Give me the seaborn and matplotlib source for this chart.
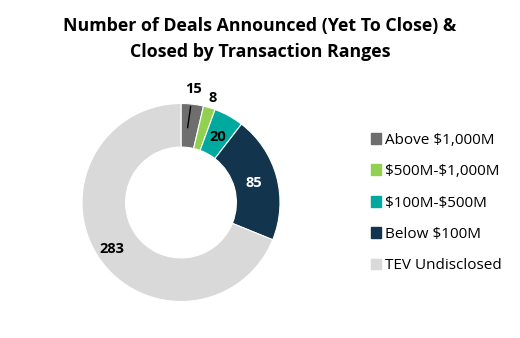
import numpy as np
import matplotlib
matplotlib.use("Agg")
import matplotlib.pyplot as plt
import seaborn as sns

categories = ["Above $1,000M", "$500M-$1,000M", "$100M-$500M", "Below $100M", "TEV Undisclosed"]
values = [15, 8, 20, 85, 283]
colors = ["#6e6e6e", "#92d050", "#00a99d", "#12344d", "#d9d9d9"]
title = "Number of Deals Announced (Yet To Close) &\nClosed by Transaction Ranges"

sns.set_theme(style="white")
plt.rcParams['font.family'] = ['Open Sans', 'DejaVu Sans']

fig = plt.figure(figsize=(5.2, 3.38), dpi=100)
ax = fig.add_axes([(82/520), 1 - 303/338, 198/520, 201/338])
wedges, _ = ax.pie(values, colors=colors, startangle=90, counterclock=False,
                   wedgeprops=dict(width=0.44, edgecolor="white", linewidth=0.8))
ax.set_aspect("equal")
ax.set_xlim(-1, 1)
ax.set_ylim(-1, 1)

total = sum(values)
cum = 0
for i, (v, w) in enumerate(zip(values, wedges)):
    mid = 90 - (cum + v / 2) / total * 360
    cum += v
    rad = np.deg2rad(mid)
    if i == 0:
        ax.annotate(str(v), xy=(0.76 * np.cos(rad) - 0.02, 0.76 * np.sin(rad)),
                    xytext=(1.15 * np.cos(rad) - 0.01, 1.15 * np.sin(rad)),
                    ha="center", va="center", fontsize=10.5, fontweight="bold", color="black",
                    arrowprops=dict(arrowstyle="-", color="black", lw=1, shrinkA=5, shrinkB=0))
    elif i == 1:
        ax.text(1.1 * np.cos(rad), 1.1 * np.sin(rad), str(v), ha="center", va="center",
                fontsize=10.5, fontweight="bold", color="black")
    else:
        r = 0.84 if i == 4 else 0.76
        ax.text(r * np.cos(rad), r * np.sin(rad), str(v), ha="center", va="center",
                fontsize=10.5, fontweight="bold", color="white" if i == 3 else "black")

fig.text(0.5, 1 - 39/338, title, ha="center", va="center", fontsize=12.8,
         fontweight="bold", linespacing=1.55, color="black")

handles = [plt.Rectangle((0, 0), 1, 1, color=c) for c in colors]
labels = [c.replace("$", r"\$") for c in categories]
leg = fig.legend(handles, labels, loc="center left", bbox_to_anchor=(357/520, 1 - 203/338),
                 frameon=False, fontsize=11, handlelength=0.7, handleheight=0.7,
                 handletextpad=0.25, labelspacing=1.07)
for t in leg.get_texts():
    t.set_color("black")

fig.savefig("out.png", dpi=100)
